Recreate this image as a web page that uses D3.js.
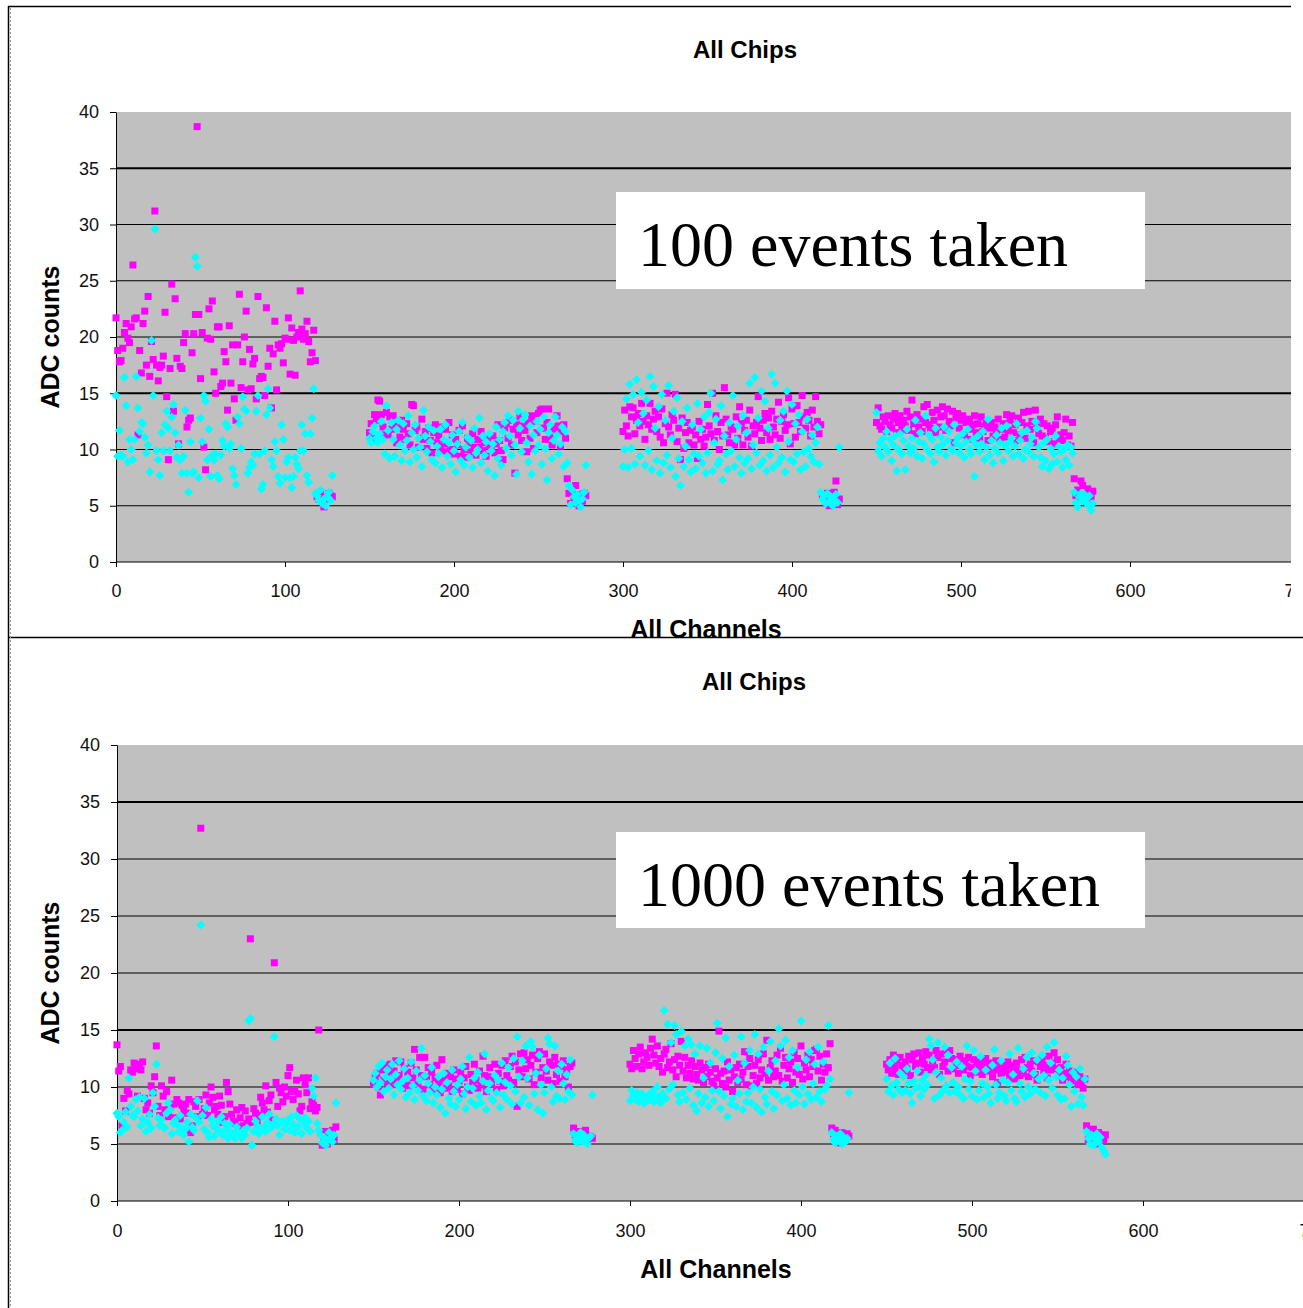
<!DOCTYPE html>
<html><head><meta charset="utf-8">
<script src="https://cdn.jsdelivr.net/npm/d3@7"></script>
<style>body{margin:0;background:#fff}svg{display:block}</style>
</head><body><svg id="c" width="1303" height="1308"></svg>
<script>
// ---------------- data ----------------
const chipStarts = [0, 150, 300, 450];
const yTicks = [0, 5, 10, 15, 20, 25, 30, 35, 40];
const xTicks = [0, 100, 200, 300, 400, 500, 600, 700];
const gridValues = [5, 10, 15, 20, 25, 30, 35];
const chartTitle = "All Chips";
const xTitle = "All Channels";
const yTitle = "ADC counts";
const boxTexts = ["100 events taken", "1000 events taken"];

// 100 events: magenta squares, per chip (channel = chipStart + index)
const pink100_c1 = [21.7,18.8,17.8,17.9,19.0,20.4,21.2,19.9,19.5,20.9, 26.4,21.6,21.7,11.3,18.8,16.8,21.2,22.3,17.5,23.6, 16.5,19.6,18.0,31.2,17.5,16.1,17.3,17.5,18.3,22.2, 14.7,9.1,17.2,24.7,13.4,23.4,18.1,10.5,17.4,17.2, 19.5,20.3,12.0,12.6,12.8,18.6,20.3,22.0,38.7,22.0, 16.3,20.4,10.2,8.2,19.9,22.5,19.8,23.2,16.9,15.0, 20.9,20.9,15.6,15.9,18.7,17.8,13.5,21.0,15.9,19.3, 14.5,12.6,19.3,23.8,15.5,17.8,20.0,22.3,15.3,18.9, 15.4,17.6,18.1,14.5,23.6,16.3,16.5,16.4,14.8,22.6, 17.4,19.0,13.7,18.5,21.4,15.3,19.3,19.0,19.4,17.7, 19.9,19.8,21.7,16.7,20.8,19.7,16.6,20.0,20.4,24.1, 20.7,19.8,20.3,21.4,19.6,17.8,18.6,20.6,17.9,5.8, 5.6,6.0,5.4,4.9,5.6,5.7,6.1,5.9,5.8];
const pink100_c2 = [11.5,12.3,11.0,13.1,12.6,14.4,14.3,13.1,12.0,11.3, 13.3,11.3,12.9,11.8,13.0,12.2,10.6,12.0,11.1,12.6, 11.8,10.9,12.3,11.4,10.4,14.0,13.9,11.7,12.0,10.2, 11.0,12.7,10.9,11.6,10.1,11.9,10.8,9.7,11.5,12.2, 10.6,11.2,9.9,12.0,10.5,11.8,9.8,12.4,10.0,11.3, 9.6,10.9,10.4,11.7,9.4,12.1,10.0,9.3,11.0,10.6, 9.8,11.4,10.2,9.5,10.9,10.2,11.6,9.9,10.6,9.4, 11.0,10.3,10.1,11.2,9.7,10.5,12.2,10.8,9.9,9.1, 11.9,12.3,11.0,12.6,10.4,11.8,7.9,12.2,11.3,12.9, 10.8,12.1,11.7,9.8,12.4,11.0,13.0,10.1,12.5,11.5, 13.2,13.5,13.6,11.9,10.9,12.4,13.6,11.1,10.4,12.0, 11.8,13.0,12.1,10.3,11.6,12.2,11.0,7.4,6.1,5.2, 6.4,5.8,6.8,5.5,5.0,6.0,5.4,6.1,5.9];
const pink100_c3 = [11.6,13.5,12.1,11.2,13.8,12.9,13.7,11.4,12.6,13.2, 12.1,14.1,12.5,10.9,13.0,12.2,14.1,11.8,12.7,13.4, 11.6,12.9,11.1,13.6,10.6,12.3,15.0,12.0,11.3,13.1, 12.6,14.9,10.7,11.9,9.1,12.8,10.1,11.5,12.4,10.6, 11.7,12.0,10.4,11.3,9.2,12.5,10.9,11.8,10.3,11.1, 14.0,12.1,11.4,15.0,10.8,13.0,11.6,10.0,12.4,11.2, 15.5,12.7,11.3,10.6,12.0,11.8,10.4,12.9,11.0,13.8, 12.3,10.4,11.7,12.6,11.1,13.5,10.3,12.1,11.4,12.4, 14.7,11.9,10.8,12.6,13.2,11.5,12.8,10.9,13.4,12.0, 11.3,12.7,14.2,11.0,12.5,13.1,11.7,12.2,14.6,10.5, 13.6,12.3,11.1,13.9,12.4,11.6,14.8,12.9,11.9,13.3, 12.6,11.2,13.5,12.0,14.7,12.5,11.4,12.2,6.0,5.7, 5.3,6.1,5.0,5.8,5.5,6.2,7.2,5.1,5.6];
const pink100_c4 = [12.4,13.7,12.1,11.8,12.9,12.5,11.6,13.0,12.2,11.9, 12.7,13.2,11.5,12.4,13.0,11.8,12.6,12.1,13.4,11.7, 12.9,14.4,12.3,11.4,13.1,12.0,12.7,11.6,13.8,12.4, 14.0,12.2,11.9,13.3,12.6,11.5,13.5,12.0,12.9,13.8, 13.0,11.7,13.6,12.5,12.1,13.4,10.6,12.8,13.2,11.9, 12.6,13.0,11.3,12.4,10.9,12.7,11.8,12.2,13.0,11.5, 12.3,11.0,12.9,11.6,12.1,12.5,10.8,11.9,12.4,11.2, 12.0,11.4,12.7,10.9,11.8,12.3,11.1,13.1,11.7,12.6, 13.0,11.5,12.2,10.8,12.8,11.3,12.4,13.3,11.0,12.1, 13.4,11.8,12.5,10.6,13.5,12.0,11.4,12.7,11.2,12.3, 11.0,12.1,10.7,11.6,11.9,10.5,12.2,12.9,10.9,11.3, 10.8,11.5,12.7,10.4,11.2,10.3,12.4,7.4,5.9,6.4, 5.6,7.2,6.8,6.0,5.4,6.5,6.1,5.8,6.3];

// 100 events: cyan diamonds
const cyan100_c1 = [14.8,9.4,11.7,9.5,9.4,16.4,13.9,8.9,10.9,10.0, 9.1,10.9,16.5,13.7,11.6,12.4,12.3,11.1,9.7,10.4, 8.0,19.7,14.8,29.6,9.9,9.1,7.7,11.5,9.9,12.2, 13.4,11.9,9.9,12.9,14.0,11.5,9.3,10.4,9.1,7.9, 9.4,13.5,7.9,6.2,10.7,7.9,8.0,27.1,26.3,7.5, 12.8,10.7,14.8,14.3,9.1,11.8,7.6,9.5,9.1,9.6, 7.7,7.4,9.5,10.8,10.3,12.3,12.0,10.1,10.5,8.3, 7.7,6.9,12.9,12.3,10.1,14.7,13.6,13.4,7.9,8.4, 8.9,8.6,9.6,13.4,14.8,9.6,6.5,6.9,9.9,13.1, 15.4,13.7,9.1,8.5,10.7,9.9,7.6,7.0,12.2,10.9, 7.5,8.9,9.3,7.5,6.6,7.6,9.3,8.7,8.3,9.9, 12.2,9.9,11.4,7.7,7.1,11.4,12.8,15.4,6.1,5.9, 5.5,6.4,5.2,5.6,5.0,5.8,6.2,5.5,7.7];
const cyan100_c2 = [11.0,10.6,11.6,12.1,11.0,10.6,11.4,12.5,10.9,9.6, 13.9,11.7,9.2,12.4,10.9,9.4,11.8,12.6,10.4,9.0, 12.3,9.9,10.8,13.0,8.9,11.5,10.0,12.2,9.3,11.0, 10.2,8.5,13.5,11.2,9.8,12.0,10.7,9.1,11.7,8.8, 10.3,9.6,11.8,8.4,10.9,12.2,9.4,10.6,8.7,11.3, 9.9,8.0,10.5,11.6,9.0,12.4,8.6,10.2,11.1,9.3, 10.8,8.4,11.9,9.7,10.0,12.8,8.8,11.2,9.5,10.7, 8.1,11.4,9.9,10.5,7.7,12.0,9.2,10.9,8.6,11.6, 12.4,10.1,13.0,11.2,9.5,12.6,10.4,7.8,13.4,11.9, 9.8,12.7,13.1,10.6,8.9,12.1,7.8,11.3,9.9,12.5, 10.4,11.8,8.7,12.9,10.1,7.3,11.5,12.2,9.2,10.8, 12.9,11.3,9.6,10.5,12.0,8.5,11.6,8.8,6.8,5.1, 6.4,5.8,5.3,6.0,5.5,4.9,5.6,6.2,8.6];
const cyan100_c3 = [8.5,10.0,14.5,8.4,15.8,10.1,14.9,8.7,16.2,12.4, 9.4,15.1,13.2,8.6,14.4,9.9,16.5,8.2,15.6,11.9, 9.0,13.8,7.9,14.9,8.8,12.6,9.5,15.7,8.4,11.0, 13.4,7.6,14.6,9.2,6.8,12.5,8.5,10.3,13.7,9.1, 8.0,12.2,9.6,8.3,14.1,9.4,11.8,8.8,12.9,7.9, 9.7,13.3,15.0,8.1,10.6,12.7,8.7,9.0,13.9,7.3, 11.2,9.6,8.2,12.4,9.9,14.8,8.5,10.9,12.1,9.3, 7.9,13.0,8.8,11.5,9.2,15.9,8.3,10.4,16.4,9.7, 12.8,8.6,15.2,9.0,14.3,8.1,11.9,9.5,16.7,8.4, 15.9,10.2,8.8,12.6,9.3,13.4,8.0,15.2,10.7,9.1, 14.0,8.9,12.3,9.6,13.1,8.2,11.6,9.8,8.5,12.7, 10.1,9.4,11.3,8.9,10.6,12.0,8.7,6.2,5.6,5.9, 5.2,6.1,5.4,5.8,5.0,5.5,6.0,5.3,10.2];
const cyan100_c4 = [13.3,9.9,10.6,9.4,11.0,10.2,11.6,9.8,10.9,9.0, 10.4,11.2,8.1,10.0,11.4,9.6,10.8,8.2,11.8,10.3, 9.7,11.0,10.1,12.6,9.4,10.7,11.5,9.2,10.5,13.0, 10.0,11.3,9.6,10.9,8.9,11.9,10.2,9.8,11.1,10.4, 12.0,9.5,10.8,11.6,10.1,9.9,12.2,10.6,11.0,9.7, 10.3,11.4,9.3,10.7,11.8,10.0,9.6,10.9,7.6,10.4, 11.2,9.8,10.5,11.6,9.1,10.2,12.7,9.5,10.8,8.8, 10.1,11.3,9.7,10.6,11.9,9.0,10.4,12.1,9.9,10.7, 11.0,9.4,10.3,12.3,9.6,10.8,11.5,9.2,10.0,11.7, 9.8,10.5,11.1,9.4,12.5,11.9,10.2,9.3,8.5,10.6, 9.0,10.9,8.3,10.1,8.7,9.6,11.2,8.9,10.3,9.8, 8.4,10.0,9.1,10.4,8.6,10.2,9.7,6.2,5.3,4.9, 5.8,6.1,5.4,6.0,5.6,5.1,5.9,4.6,5.2];

// 1000 events: magenta squares
const pink1000_c1 = [13.7,11.4,11.8,6.6,9.0,7.9,9.7,9.4,11.5,11.3, 12.1,11.6,9.2,12.0,11.5,12.2,9.0,8.0,8.6,7.7, 10.1,9.5,10.9,13.6,8.3,7.5,10.1,9.2,8.0,9.6, 7.4,8.2,10.6,8.5,7.3,8.9,8.6,7.2,8.4,7.9, 8.5,7.7,8.9,6.0,6.6,8.7,8.3,7.4,8.9,32.7, 7.6,8.1,9.3,7.5,8.6,10.0,9.1,8.0,8.3,7.6, 9.2,8.4,6.9,7.4,10.4,9.6,8.5,7.6,7.0,6.8, 8.0,6.5,7.3,8.2,6.6,7.9,6.8,7.2,23.0,6.9, 8.1,7.7,6.9,7.5,9.1,8.6,8.0,10.1,7.8,8.8, 9.3,7.1,20.9,10.4,8.3,9.9,9.5,8.7,10.0,9.2, 11.0,11.7,9.6,8.9,9.7,10.6,9.4,7.9,8.3,10.8, 10.2,9.5,10.8,8.1,8.7,8.4,7.9,8.2,15.0,6.0, 4.9,5.3,6.1,5.0,5.5,5.7,6.2,5.4,6.5];
const pink1000_c2 = [10.3,10.8,11.2,10.0,9.3,11.5,10.6,11.9,10.4,11.1, 12.0,10.2,11.4,12.3,10.7,11.0,12.2,9.9,11.6,10.5, 11.3,10.1,12.1,10.8,13.3,11.5,10.3,12.6,11.0,9.8, 12.6,10.9,11.7,10.2,11.3,9.7,10.8,11.9,10.4,9.5, 12.4,10.6,9.9,11.2,10.1,10.9,9.6,11.5,10.7,9.8, 10.5,11.3,9.4,10.8,11.8,10.0,9.7,11.1,10.4,12.0, 10.6,9.9,11.4,10.2,12.7,11.0,9.6,10.9,11.7,10.3, 10.8,12.0,9.8,11.2,10.5,11.9,10.1,12.3,11.0,10.6, 11.8,12.7,10.4,12.2,8.3,11.5,12.9,10.9,13.0,11.6, 12.4,10.7,11.9,12.8,10.2,11.3,12.5,13.1,10.8,11.7, 12.9,11.4,10.6,12.2,11.9,10.3,12.6,11.1,12.0,10.5, 11.8,12.3,10.9,11.5,10.0,11.8,12.1,6.4,5.8,5.5, 6.1,5.3,5.9,5.6,6.2,5.4,5.7,5.6,5.5];
const pink1000_c3 = [12.0,11.6,13.2,12.5,11.8,12.9,13.5,11.6,12.2,13.0, 12.6,11.9,13.4,14.2,12.8,12.1,13.6,11.8,12.5,11.3, 12.9,13.3,11.7,12.2,13.8,11.5,12.4,10.9,12.7,11.9, 14.0,11.4,12.6,10.8,11.9,11.2,12.3,10.7,11.8,11.1, 10.6,12.1,11.5,10.4,11.7,10.9,12.0,11.3,10.5,10.1, 11.6,10.8,14.9,11.2,10.3,11.4,10.0,12.2,10.6,11.5, 9.6,10.9,11.7,10.4,12.0,10.7,11.3,13.1,10.2,11.8, 12.5,10.1,11.0,11.9,10.3,12.4,10.8,11.5,12.9,11.2, 14.1,10.6,11.7,12.3,10.9,11.4,12.8,11.0,13.4,10.5, 11.9,12.6,10.8,11.6,12.2,10.4,13.0,11.3,12.5,11.1, 13.6,10.7,12.1,11.5,12.8,10.9,12.4,11.8,13.2,13.3, 11.4,12.7,10.6,12.0,11.3,12.9,11.7,13.8,6.4,5.9, 6.2,5.5,5.8,5.1,6.0,5.6,5.3,5.9,5.7];
const pink1000_c4 = [12.0,11.5,12.4,11.2,12.8,11.7,12.3,11.1,12.6,11.9, 11.4,12.2,11.6,12.7,11.0,12.4,12.9,11.8,12.1,13.0, 11.3,12.5,12.0,13.1,11.7,12.8,11.5,12.3,11.7,13.2, 12.6,11.1,12.9,11.8,12.2,13.0,11.4,13.2,12.5,11.6, 12.4,11.9,11.2,12.7,12.1,11.5,12.3,11.8,12.6,11.0, 11.7,12.4,11.3,12.0,11.6,12.2,11.1,11.9,12.5,11.4, 11.8,12.1,10.9,11.5,12.3,10.4,11.7,11.2,12.0,11.6, 11.3,12.2,10.8,11.9,11.4,10.7,12.1,11.5,11.0,12.4, 11.2,12.6,11.7,10.9,12.0,11.4,12.3,11.1,10.6,12.2, 11.8,12.5,11.3,11.9,10.8,12.7,11.5,12.1,13.0,11.6, 12.4,11.0,11.7,10.6,11.2,12.0,10.9,11.4,10.5,11.1, 10.8,11.3,10.2,10.9,10.4,9.9,10.7,6.6,5.4,5.9, 5.2,6.3,5.6,5.0,6.0,5.5,5.8,5.3,5.8];

// 1000 events: cyan diamonds
const cyan1000_c1 = [7.7,7.4,6.0,6.2,6.9,7.8,6.5,10.8,8.3,7.5, 7.4,8.9,7.9,9.1,6.6,7.2,9.0,6.1,6.9,7.6, 6.4,9.5,8.3,12.0,7.3,6.6,7.1,6.5,6.4,7.7, 8.6,8.0,5.9,6.8,7.1,6.7,6.1,7.5,6.4,5.8, 6.3,6.9,5.2,7.6,6.5,6.2,7.3,8.8,6.9,24.2, 7.5,6.3,8.2,6.0,5.6,7.2,6.6,5.7,6.4,7.0, 6.1,7.4,5.8,6.8,6.3,5.5,6.7,6.0,5.8,5.5, 6.5,6.0,5.7,5.5,6.2,5.8,6.4,15.8,16.0,4.9, 6.1,7.0,6.6,5.9,6.3,7.4,6.5,6.1,6.9,7.6, 6.4,6.7,14.4,7.2,6.6,5.8,6.9,7.0,6.3,6.8, 7.1,6.2,7.4,6.7,6.0,7.5,6.5,7.2,5.9,6.9, 7.3,6.4,7.0,6.1,9.9,9.2,10.8,6.8,6.2,5.8, 5.1,5.6,4.9,5.3,6.0,5.5,5.2,5.8,8.6];
const cyan1000_c2 = [10.6,11.2,10.0,11.8,10.4,12.1,9.6,10.9,11.5,9.9, 10.7,12.0,9.3,11.1,10.2,12.3,9.8,10.5,11.6,9.1, 10.8,9.5,12.2,10.1,8.9,11.4,9.7,10.6,13.4,9.2, 11.0,8.8,10.3,9.5,11.7,8.6,10.0,9.3,10.9,8.2, 9.8,11.2,7.7,10.4,9.0,8.5,11.5,9.6,8.3,10.2, 8.9,10.7,11.8,9.4,8.1,10.0,12.6,8.7,9.9,10.8, 8.4,11.3,9.2,8.6,10.5,12.9,8.0,9.7,10.3,9.0, 8.8,11.0,9.5,10.6,8.2,12.1,9.3,10.4,8.9,11.7, 10.1,8.5,12.5,9.6,14.4,10.9,8.6,12.3,9.1,13.6, 10.8,8.4,14.0,13.5,9.4,11.2,8.0,12.8,10.2,7.7, 9.5,11.6,14.3,13.8,10.0,8.7,13.6,9.2,11.4,9.0, 12.0,10.3,8.9,11.1,9.6,12.4,9.3,5.9,5.3,5.1, 5.6,6.0,5.2,5.8,5.4,5.0,5.5,5.7,9.3];
const cyan1000_c3 = [8.8,9.7,9.2,8.9,9.5,8.7,9.0,9.4,8.6,9.1, 8.8,9.3,8.9,9.6,8.7,9.2,10.0,9.1,8.6,9.4, 16.7,9.0,15.5,9.8,13.9,10.2,15.4,14.6,9.3,8.7, 14.9,9.5,13.6,8.9,14.2,9.9,13.7,8.4,12.9,7.9, 9.4,13.6,8.6,10.8,9.1,13.4,8.3,12.1,9.7,8.8, 13.0,15.6,9.6,8.1,12.5,9.2,14.3,7.4,11.8,8.5, 9.0,12.8,8.3,10.6,9.4,14.4,8.0,12.1,8.7,9.5, 13.2,8.6,10.0,14.6,8.2,12.9,9.8,7.8,13.5,9.1, 8.5,11.4,14.0,9.6,8.1,12.3,9.3,15.1,13.6,8.8, 10.2,14.1,9.0,12.6,8.4,13.2,9.7,8.6,11.7,9.3, 15.8,10.0,8.5,12.4,9.4,13.1,8.9,10.3,12.0,9.1, 13.5,9.6,8.7,12.2,9.8,10.1,15.4,10.7,6.0,5.4, 5.1,5.7,5.3,5.9,5.0,5.6,5.2,5.5,9.5];
const cyan1000_c4 = [10.7,9.6,12.1,10.1,9.3,12.5,10.4,9.8,11.2,9.5, 10.9,9.7,11.6,10.3,9.4,8.6,10.5,9.9,11.4,10.0, 9.2,10.6,9.8,11.0,10.2,14.2,13.6,12.4,9.0,11.3, 13.9,9.3,10.8,9.7,13.5,10.1,12.8,9.5,11.7,10.4, 9.6,12.2,10.0,9.3,11.8,9.0,10.7,13.6,9.8,10.5, 9.2,13.2,11.4,8.9,9.7,12.7,10.3,9.1,11.5,10.0, 9.4,8.6,11.9,13.3,10.2,9.0,9.5,12.3,10.6,9.2, 8.8,10.4,12.9,9.7,11.1,9.0,8.7,13.4,10.3,9.6, 11.6,9.1,12.6,10.0,9.4,13.0,11.2,9.8,12.4,10.7, 9.5,12.8,11.0,9.2,13.5,10.6,12.1,9.9,13.9,10.9, 9.3,11.5,8.9,10.8,9.0,12.7,11.9,10.2,8.3,11.3, 9.6,10.9,8.5,11.6,9.1,8.4,10.7,6.1,5.5,5.0, 5.8,4.9,5.4,5.9,5.2,5.6,4.7,4.4,4.1];

const panelsData = [
  { pink: [pink100_c1, pink100_c2, pink100_c3, pink100_c4], cyan: [cyan100_c1, cyan100_c2, cyan100_c3, cyan100_c4] },
  { pink: [pink1000_c1, pink1000_c2, pink1000_c3, pink1000_c4], cyan: [cyan1000_c1, cyan1000_c2, cyan1000_c3, cyan1000_c4] }
];

// ---------------- layout ----------------
const layouts = [
  { clipW: 1291, clipY0: 6, clipY1: 637, x0: 116, x700: 1299, y0: 562, y40: 112, plotRight: 1291,
    titleX: 745, titleY: 58, xtX: 706, xtY: 638, ytY: 337, xLabPad: 17,
    box: [616, 192, 1145, 289], boxTextY: 266 },
  { clipW: 1303, clipY0: 637, clipY1: 1308, x0: 117, x700: 1314, y0: 1201, y40: 745, plotRight: 1303,
    titleX: 754, titleY: 690, xtX: 716, xtY: 1278, ytY: 973, xLabPad: 18,
    box: [616, 832, 1145, 928], boxTextY: 906 }
];

const svg = d3.select("#c");
svg.append("rect").attr("width", 1303).attr("height", 1308).attr("fill", "#fff");
const defs = svg.append("defs");

function rowsFor(chips) {
  const rows = [];
  chips.forEach((arr, ci) => arr.forEach((v, i) => rows.push({ ch: chipStarts[ci] + i, v })));
  return rows;
}

const diamond = {
  draw(ctx, size) {
    const r = Math.sqrt(size) / 2;
    ctx.moveTo(0, -r); ctx.lineTo(r, 0); ctx.lineTo(0, r); ctx.lineTo(-r, 0); ctx.closePath();
  }
};

layouts.forEach((L, pi) => {
  const D = panelsData[pi];
  defs.append("clipPath").attr("id", "clip" + pi)
    .append("rect").attr("x", 0).attr("y", L.clipY0).attr("width", L.clipW).attr("height", L.clipY1 - L.clipY0);
  const g = svg.append("g").attr("clip-path", `url(#clip${pi})`);

  const x = d3.scaleLinear().domain([0, 700]).range([L.x0, L.x700]);
  const y = d3.scaleLinear().domain([0, 40]).range([L.y0, L.y40]);

  // plot area
  g.append("rect").attr("x", x(0)).attr("y", y(40)).attr("width", L.plotRight - x(0)).attr("height", y(0) - y(40))
    .attr("fill", "#c0c0c0");

  // gridlines
  g.append("g").selectAll("line").data(gridValues).join("line")
    .attr("x1", x(0)).attr("x2", L.plotRight)
    .attr("y1", d => y(d)).attr("y2", d => y(d))
    .attr("stroke", "#000")
    .attr("stroke-width", d => (d === 35 || d === 15) ? 2 : 1.1);

  // axes
  const ya = g.append("g").attr("transform", `translate(${x(0)},0)`)
    .call(d3.axisLeft(y).tickValues(yTicks).tickSize(6).tickSizeOuter(0).tickPadding(11));
  const xa = g.append("g").attr("transform", `translate(0,${y(0)})`)
    .call(d3.axisBottom(x).tickValues(xTicks).tickSize(5).tickSizeOuter(0).tickPadding(L.xLabPad));
  [ya, xa].forEach(a => {
    a.select(".domain").attr("stroke", "#000").attr("stroke-width", 1);
    a.selectAll(".tick line").attr("stroke", "#000");
    a.selectAll("text").attr("font-family", "Liberation Sans, Arial, sans-serif").attr("font-size", 18).attr("fill", "#111");
  });
  xa.select(".domain").attr("d", `M${x(0)},0H${L.plotRight}`);

  // points
  const pts = g.append("g");
  pts.selectAll("rect").data(rowsFor(D.pink)).join("rect")
    .attr("x", d => x(d.ch) - 3.5).attr("y", d => y(d.v) - 3.5)
    .attr("width", 7).attr("height", 7).attr("fill", "#ff00ff");
  pts.selectAll("path").data(rowsFor(D.cyan)).join("path")
    .attr("transform", d => `translate(${x(d.ch)},${y(d.v)})`)
    .attr("d", d3.symbol().type(diamond).size(81))
    .attr("fill", "#00ffff");

  // text box
  const b = L.box;
  g.append("rect").attr("x", b[0]).attr("y", b[1]).attr("width", b[2] - b[0]).attr("height", b[3] - b[1]).attr("fill", "#fff");
  g.append("text").attr("x", b[0] + 22).attr("y", L.boxTextY)
    .attr("font-family", "Liberation Serif, Times New Roman, serif").attr("font-size", 64).attr("fill", "#000")
    .text(boxTexts[pi]);

  // titles
  g.append("text").attr("x", L.titleX).attr("y", L.titleY).attr("text-anchor", "middle")
    .attr("font-family", "Liberation Sans, Arial, sans-serif").attr("font-weight", "bold").attr("font-size", 24)
    .text(chartTitle);
  g.append("text").attr("x", L.xtX).attr("y", L.xtY).attr("text-anchor", "middle")
    .attr("font-family", "Liberation Sans, Arial, sans-serif").attr("font-weight", "bold").attr("font-size", 25)
    .text(xTitle);
  g.append("text").attr("transform", `translate(59,${L.ytY}) rotate(-90)`).attr("text-anchor", "middle")
    .attr("font-family", "Liberation Sans, Arial, sans-serif").attr("font-weight", "bold").attr("font-size", 25)
    .text(yTitle);
});

// frame lines
svg.append("line").attr("x1", 8).attr("x2", 1291).attr("y1", 6.5).attr("y2", 6.5).attr("stroke", "#000").attr("stroke-width", 1.5);
svg.append("line").attr("x1", 8).attr("x2", 1303).attr("y1", 637.5).attr("y2", 637.5).attr("stroke", "#000").attr("stroke-width", 1.5);
svg.append("line").attr("x1", 8.5).attr("x2", 8.5).attr("y1", 6).attr("y2", 1308).attr("stroke", "#000").attr("stroke-width", 1.5);
svg.append("line").attr("x1", 10.5).attr("x2", 10.5).attr("y1", 8).attr("y2", 1308).attr("stroke", "#999").attr("stroke-width", 1).attr("stroke-dasharray", "2,2");
</script></body></html>
